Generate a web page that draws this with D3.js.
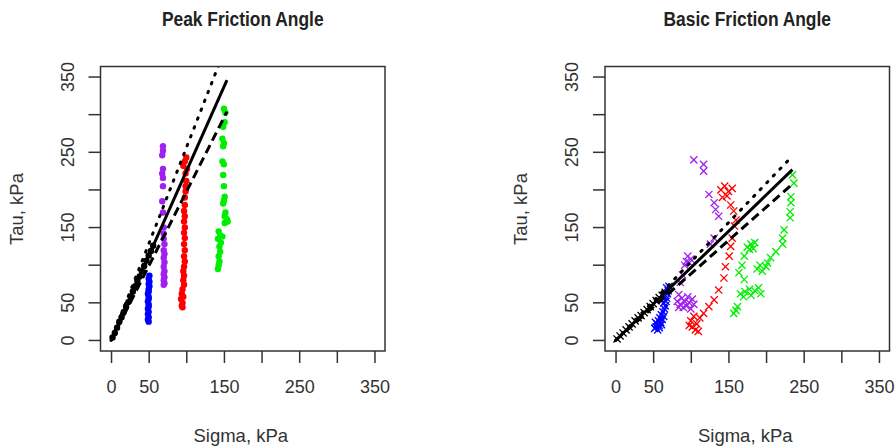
<!DOCTYPE html>
<html>
<head>
<meta charset="utf-8">
<script src="https://cdn.jsdelivr.net/npm/d3@7/dist/d3.min.js"></script>
<style>
  body { margin: 0; background: #fff; }
  svg { display: block; font-family: "Liberation Sans", Arial, sans-serif; }
</style>
</head>
<body>
<svg id="chart" width="895" height="447" viewBox="0 0 895 447"></svg>
<script>
// axis ticks and labels (R drops the crowded labels)
const tickValues = [0, 50, 100, 150, 200, 250, 300, 350];
const shownLabels = [0, 50, 150, 250, 350];

// Peak friction angle: [sigma, tau]
const peakBlack = [[2,4],[5,10],[8,17],[11,25],[14,31],[17,38],[20,45],[23,51],[26,58],[29,65],[32,72],[35,79],[38,85],[41,92],[44,99],[47,106],[50,113],[53,119],[56,126]];
const peakBlue = [[50,25],[49,28],[50,31],[49,35],[50,38],[49,42],[50,45],[50,48],[49,52],[50,55],[50,58],[49,62],[50,65],[50,68],[51,72],[50,75],[51,78],[50,82],[51,86]];
const peakPurple = [[69,258],[69,252],[68,246],[69,228],[68,222],[69,216],[69,205],[68,185],[69,170],[70,150],[70,142],[70,135],[71,128],[70,120],[71,115],[70,110],[71,104],[70,98],[71,92],[70,88],[71,84],[70,80],[71,76],[70,74]];
const peakRed = [[100,243],[98,238],[96,232],[101,228],[99,222],[100,212],[99,205],[99,198],[98,190],[98,180],[97,172],[98,165],[97,158],[98,150],[97,143],[98,136],[97,128],[98,120],[97,112],[98,105],[97,98],[96,92],[97,86],[96,80],[97,74],[95,68],[94,62],[96,58],[93,55],[95,50],[94,46],[95,44]];
const peakGreen = [[150,308],[152,303],[151,290],[149,284],[148,268],[150,262],[149,258],[148,238],[150,234],[149,220],[150,205],[151,191],[150,186],[149,182],[152,170],[151,165],[154,161],[155,158],[151,156],[143,145],[145,140],[142,135],[146,130],[148,138],[144,125],[145,118],[143,112],[144,105],[143,100],[142,95]];
const peakSolid = [[0,0],[154,346]];
const peakDotted = [[0,0],[154,394]];
const peakDashed = [[0,0],[154,304]];

// Basic friction angle: [sigma, tau]
const basicBlack = [[2,2],[6,6],[10,10],[14,14],[18,18],[22,22],[26,26],[30,30],[34,33],[38,37],[42,41],[46,45],[50,49],[54,53],[58,57],[62,60],[66,64]];
const basicBlue = [[52,16],[54,18],[56,14],[55,22],[58,20],[57,26],[60,24],[59,30],[62,28],[61,34],[64,32],[63,38],[65,42],[66,46],[64,50],[67,52],[68,56],[66,60],[69,62],[70,66],[68,70],[71,72],[53,24],[58,17],[61,21]];
const basicPurple = [[104,240],[117,234],[117,225],[124,194],[131,183],[133,174],[137,165],[131,136],[126,128],[96,112],[100,108],[94,105],[98,103],[92,100],[89,87],[86,77],[84,61],[82,52],[86,48],[90,44],[94,46],[98,50],[102,55],[100,42],[88,56],[84,44],[96,58],[92,52],[104,48]];
const basicRed = [[140,200],[145,205],[150,198],[155,202],[148,192],[142,190],[153,180],[157,172],[160,160],[158,152],[155,136],[153,125],[151,112],[146,98],[144,83],[137,67],[131,54],[124,45],[117,36],[112,30],[108,22],[102,18],[106,14],[100,26],[110,12],[104,32],[98,20]];
const basicGreen = [[235,220],[237,209],[233,191],[233,183],[232,171],[232,163],[224,147],[222,136],[222,128],[213,118],[206,110],[202,103],[188,95],[195,92],[200,98],[192,100],[180,128],[175,124],[185,130],[178,121],[183,122],[171,112],[168,100],[164,90],[171,81],[166,62],[172,65],[178,68],[185,66],[190,70],[193,62],[180,60],[170,58],[162,45],[157,36],[160,40]];
const basicSolid = [[0,0],[235,227]];
const basicDotted = [[0,0],[234,244]];
const basicDashed = [[0,0],[234,207]];

const svg = d3.select("#chart");

function drawPanel(id, title, left, marker, series, lines) {
    const top = 66.5, size = 284.5;
    const x = d3.scaleLinear().domain([-14, 364]).range([left, left + size]);
    const y = d3.scaleLinear().domain([-14, 364]).range([top + size, top]);
    const g = svg.append("g");

    g.append("clipPath").attr("id", "clip" + id)
        .append("rect").attr("x", left).attr("y", top).attr("width", size).attr("height", size);

    // title, a bit condensed like the original
    g.append("text")
        .attr("transform", `translate(${left + size / 2},26) scale(0.87,1)`)
        .attr("text-anchor", "middle")
        .attr("font-weight", "bold")
        .attr("font-size", 20)
        .attr("fill", "#222")
        .text(title);

    // points
    const plot = g.append("g").attr("clip-path", `url(#clip${id})`);
    series.forEach(s => {
        if (marker === "dot") {
            plot.append("g").selectAll("circle")
                .data(s.data).enter().append("circle")
                .attr("cx", d => x(d[0]))
                .attr("cy", d => y(d[1]))
                .attr("r", 3.2)
                .attr("fill", s.color);
        } else {
            const h = 3.6;
            plot.append("g").selectAll("path")
                .data(s.data).enter().append("path")
                .attr("d", d => {
                    const cx = x(d[0]), cy = y(d[1]);
                    return `M${cx - h},${cy - h}L${cx + h},${cy + h}M${cx - h},${cy + h}L${cx + h},${cy - h}`;
                })
                .attr("stroke", s.color)
                .attr("stroke-width", 1.3)
                .attr("fill", "none");
        }
    });

    // fitted lines
    const line = d3.line().x(d => x(d[0])).y(d => y(d[1]));
    lines.forEach(l => {
        plot.append("path")
            .attr("d", line(l.data))
            .attr("fill", "none")
            .attr("stroke", "#000")
            .attr("stroke-width", 3)
            .attr("stroke-linecap", l.dash === "dot" ? "round" : "butt")
            .attr("stroke-dasharray", l.dash === "dot" ? "1.5,8" : l.dash === "dash" ? "9,5" : null);
    });

    // box
    g.append("rect")
        .attr("x", left).attr("y", top).attr("width", size).attr("height", size)
        .attr("fill", "none").attr("stroke", "#333").attr("stroke-width", 1.5);

    // bottom axis
    const xAxis = g.append("g")
        .attr("transform", `translate(0,${top + size})`)
        .call(d3.axisBottom(x).tickValues(tickValues).tickSize(12).tickPadding(17)
            .tickFormat(d => shownLabels.includes(d) ? d : ""));
    xAxis.select(".domain").remove();
    xAxis.selectAll("line").attr("stroke", "#333").attr("stroke-width", 1.5);
    xAxis.selectAll("text").attr("font-size", 18).attr("fill", "#333")
        .attr("font-family", "Liberation Sans, Arial, sans-serif");

    // left axis, labels parallel to the axis
    const yAxis = g.append("g").attr("transform", `translate(${left},0)`);
    yAxis.selectAll("line").data(tickValues).enter().append("line")
        .attr("x1", 0).attr("x2", -12)
        .attr("y1", d => y(d)).attr("y2", d => y(d))
        .attr("stroke", "#333").attr("stroke-width", 1.5);
    yAxis.selectAll("text").data(shownLabels).enter().append("text")
        .attr("transform", d => `translate(-27,${y(d)}) rotate(-90)`)
        .attr("text-anchor", "middle")
        .attr("font-size", 18)
        .attr("fill", "#333")
        .text(d => d);

    // axis titles
    g.append("text")
        .attr("x", left + size / 2 - 2).attr("y", 442)
        .attr("text-anchor", "middle").attr("font-size", 18.5).attr("fill", "#333")
        .text("Sigma, kPa");
    g.append("text")
        .attr("transform", `translate(${left - 78},209) rotate(-90)`)
        .attr("text-anchor", "middle").attr("font-size", 18.5).attr("fill", "#333")
        .text("Tau, kPa");
}

drawPanel("a", "Peak Friction Angle", 100.5, "dot",
    [{ data: peakBlack, color: "#000" },
     { data: peakBlue, color: "#0000ff" },
     { data: peakPurple, color: "#a020f0" },
     { data: peakRed, color: "#ff0000" },
     { data: peakGreen, color: "#00ee00" }],
    [{ data: peakSolid, dash: null },
     { data: peakDotted, dash: "dot" },
     { data: peakDashed, dash: "dash" }]);

drawPanel("b", "Basic Friction Angle", 605, "cross",
    [{ data: basicBlack, color: "#000" },
     { data: basicBlue, color: "#0000ff" },
     { data: basicPurple, color: "#a020f0" },
     { data: basicRed, color: "#ff0000" },
     { data: basicGreen, color: "#00ee00" }],
    [{ data: basicSolid, dash: null },
     { data: basicDotted, dash: "dot" },
     { data: basicDashed, dash: "dash" }]);
</script>
</body>
</html>
